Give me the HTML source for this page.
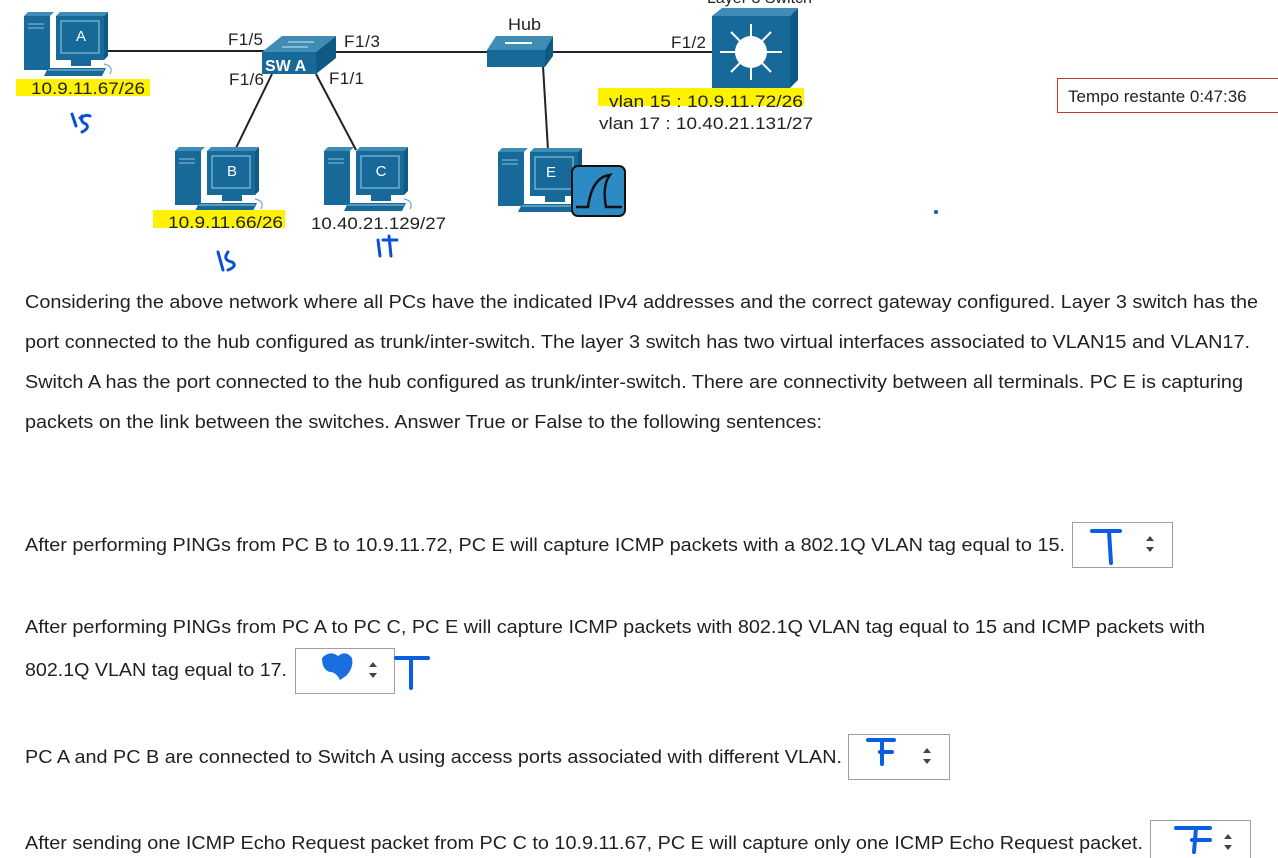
<!DOCTYPE html>
<html><head><meta charset="utf-8"><style>
html,body{margin:0;padding:0;background:#fff;}
svg{display:block;}
text{font-family:"Liberation Sans",Arial,sans-serif;}
</style></head><body>
<svg width="1278" height="858" viewBox="0 0 1278 858" xmlns="http://www.w3.org/2000/svg">
<defs>
<g id="pc">
  <polygon points="0,4 4,0 30,0 26,4" fill="#3f8db5"/>
  <rect x="0" y="4" width="26" height="54" fill="#17699a"/>
  <line x1="4" y1="12" x2="20" y2="12" stroke="#8fc0da" stroke-width="1"/>
  <line x1="4" y1="16" x2="20" y2="16" stroke="#8fc0da" stroke-width="1"/>
  <polygon points="32,4 36,0 84,0 80,4" fill="#3f8db5"/>
  <rect x="32" y="4" width="48" height="44" fill="#17699a"/>
  <polygon points="80,4 84,0 84,44 80,48" fill="#0f5a84"/>
  <rect x="37" y="9" width="38" height="32" fill="none" stroke="#9ccbe3" stroke-width="1"/>
  <rect x="47" y="48" width="20" height="6" fill="#17699a"/>
  <polygon points="24,56 82,56 78,64 20,64" fill="#17699a"/>
  <line x1="24" y1="58" x2="80" y2="58" stroke="#9ccbe3" stroke-width="1"/>
  <path d="M80,52 q10,2 6,10" fill="none" stroke="#6aa9cc" stroke-width="1.2"/>
</g>
</defs>

<g stroke="#222" stroke-width="2" fill="none">
  <line x1="108" y1="51" x2="266" y2="51"/>
  <line x1="334" y1="52" x2="490" y2="52"/>
  <line x1="550" y1="52" x2="714" y2="52"/>
  <line x1="272" y1="74" x2="236" y2="148"/>
  <line x1="316" y1="74" x2="356" y2="150"/>
  <line x1="543" y1="66" x2="548" y2="150"/>
</g>

<use href="#pc" x="24" y="12"/>
<use href="#pc" x="175" y="147"/>
<use href="#pc" x="324" y="147"/>
<use href="#pc" x="498" y="148"/>
<g fill="#fff" font-size="15" text-anchor="middle">
  <text x="81" y="41">A</text>
  <text x="232" y="176">B</text>
  <text x="381" y="176">C</text>
  <text x="551" y="177">E</text>
</g>

<rect x="572" y="166" width="53" height="50" rx="6" fill="#2c8bc4" stroke="#111" stroke-width="2"/>
<path d="M576,207 h12 q4,-30 22,-32 q-8,10 -4,32 h16" fill="none" stroke="#111" stroke-width="2.5"/>

<polygon points="262,52 282,36 336,36 316,52" fill="#3f8db5"/>
<rect x="262" y="52" width="54" height="22" fill="#17699a"/>
<polygon points="316,52 336,36 336,58 316,74" fill="#0f5a84"/>
<g stroke="#cfe6f2" stroke-width="1"><line x1="288" y1="42" x2="314" y2="42"/><line x1="282" y1="47" x2="308" y2="47"/></g>
<text x="265" y="71" font-size="16" fill="#fff" font-weight="bold">SW A</text>

<polygon points="487,50 496,36 553,36 545,50" fill="#3f8db5"/>
<rect x="487" y="50" width="58" height="17" fill="#17699a"/>
<polygon points="545,50 553,36 553,56 545,67" fill="#0f5a84"/>
<line x1="505" y1="43" x2="532" y2="43" stroke="#fff" stroke-width="2"/>
<text x="508" y="30" font-size="17" fill="#222" textLength="33" lengthAdjust="spacingAndGlyphs">Hub</text>

<polygon points="712,16 722,8 798,8 790,16" fill="#3f8db5"/>
<rect x="712" y="16" width="78" height="72" fill="#17699a"/>
<polygon points="790,16 798,8 798,80 790,88" fill="#0f5a84"/>
<circle cx="751" cy="52" r="16" fill="#fff"/>
<g stroke="#fff" stroke-width="2">
  <line x1="751" y1="36" x2="751" y2="24"/><line x1="751" y1="68" x2="751" y2="80"/>
  <line x1="735" y1="52" x2="720" y2="52"/><line x1="767" y1="52" x2="782" y2="52"/>
  <line x1="740" y1="41" x2="731" y2="32"/><line x1="762" y1="41" x2="771" y2="32"/>
  <line x1="740" y1="63" x2="731" y2="72"/><line x1="762" y1="63" x2="771" y2="72"/>
</g>
<text x="707" y="3" font-size="16" fill="#222">Layer 3 Switch</text>

<g font-size="17" fill="#222" lengthAdjust="spacingAndGlyphs">
  <text x="228" y="45" textLength="35">F1/5</text>
  <text x="344" y="47" textLength="36">F1/3</text>
  <text x="229" y="85" textLength="35">F1/6</text>
  <text x="329" y="84" textLength="35">F1/1</text>
  <text x="671" y="48" textLength="35">F1/2</text>
</g>

<g fill="#fff200">
  <rect x="16" y="79" width="134" height="17"/>
  <rect x="153" y="210" width="132" height="18"/>
  <rect x="598" y="88" width="206" height="18"/>
</g>
<g font-size="17" fill="#222">
  <text x="31" y="94" textLength="114" lengthAdjust="spacingAndGlyphs">10.9.11.67/26</text>
  <text x="168" y="228" textLength="115" lengthAdjust="spacingAndGlyphs">10.9.11.66/26</text>
  <text x="311" y="229" textLength="135" lengthAdjust="spacingAndGlyphs">10.40.21.129/27</text>
  <text x="609" y="107" textLength="194" lengthAdjust="spacingAndGlyphs">vlan 15 : 10.9.11.72/26</text>
  <text x="599" y="129" textLength="214" lengthAdjust="spacingAndGlyphs">vlan 17 : 10.40.21.131/27</text>
</g>

<g fill="none" stroke="#0a4fd8" stroke-width="3" stroke-linecap="round">
  <path d="M72,114 l4,12 M80,118 q6,-4 10,-2 M82,116 q-2,6 4,8 q4,4 -4,8"/>
  <path d="M218,252 l5,18 M228,252 q-6,8 4,10 q6,4 -4,8"/>
  <path d="M378,240 l2,16 M383,240 h14 M389,236 l2,20"/>
</g>

<rect x="1057.5" y="78.5" width="225" height="34" fill="#fff" stroke="#c0392b" stroke-width="1"/>
<text x="1068" y="102" font-size="17" fill="#222">Tempo restante 0:47:36</text>
<circle cx="936" cy="212" r="2" fill="#1a4fc0"/>

<g font-size="18" fill="#1d2125">
  <text x="25" y="308" textLength="1233" lengthAdjust="spacingAndGlyphs">Considering the above network where all PCs have the indicated IPv4 addresses and the correct gateway configured. Layer 3 switch has the</text>
  <text x="25" y="348" textLength="1225" lengthAdjust="spacingAndGlyphs">port connected to the hub configured as trunk/inter-switch. The layer 3 switch has two virtual interfaces associated to VLAN15 and VLAN17.</text>
  <text x="25" y="388" textLength="1218" lengthAdjust="spacingAndGlyphs">Switch A has the port connected to the hub configured as trunk/inter-switch. There are connectivity between all terminals. PC E is capturing</text>
  <text x="25" y="428" textLength="797" lengthAdjust="spacingAndGlyphs">packets on the link between the switches. Answer True or False to the following sentences:</text>

  <text x="25" y="551" textLength="1040" lengthAdjust="spacingAndGlyphs">After performing PINGs from PC B to 10.9.11.72, PC E will capture ICMP packets with a 802.1Q VLAN tag equal to 15.</text>
  <text x="25" y="633" textLength="1180" lengthAdjust="spacingAndGlyphs">After performing PINGs from PC A to PC C, PC E will capture ICMP packets with 802.1Q VLAN tag equal to 15 and ICMP packets with</text>
  <text x="25" y="676" textLength="262" lengthAdjust="spacingAndGlyphs">802.1Q VLAN tag equal to 17.</text>
  <text x="25" y="763" textLength="817" lengthAdjust="spacingAndGlyphs">PC A and PC B are connected to Switch A using access ports associated with different VLAN.</text>
  <text x="25" y="849" textLength="1118" lengthAdjust="spacingAndGlyphs">After sending one ICMP Echo Request packet from PC C to 10.9.11.67, PC E will capture only one ICMP Echo Request packet.</text>
</g>

<g fill="#fff" stroke="#9aa0a6" stroke-width="1">
  <rect x="1072.5" y="522.5" width="100" height="45"/>
  <rect x="295.5" y="648.5" width="99" height="45"/>
  <rect x="848.5" y="734.5" width="101" height="45"/>
  <rect x="1150.5" y="820.5" width="100" height="45"/>
</g>
<g fill="#444">
  <path d="M1146,541 l4,-5 l4,5z M1146,547 l4,5 l4,-5z"/>
  <path d="M369,667 l4,-5 l4,5z M369,673 l4,5 l4,-5z"/>
  <path d="M923,753 l4,-5 l4,5z M923,759 l4,5 l4,-5z"/>
  <path d="M1224,839 l4,-5 l4,5z M1224,845 l4,5 l4,-5z"/>
</g>
<g fill="none" stroke="#0a5ee0" stroke-width="4" stroke-linecap="round">
  <path d="M1092,531 h28 M1109,531 l2,32"/>
  <path d="M396,658 h32 M411,658 v30"/>
  <path d="M868,740 h26 M882,740 v24 M880,752 h12"/>
  <path d="M1176,828 h34 M1196,828 l-2,24 M1192,840 h18"/>
</g>
<path d="M322,658 q8,-8 16,-2 q8,-6 14,2 q2,10 -6,18 l-6,4 q-4,-8 -10,-8 q-8,-2 -8,-14z" fill="#1a6fe0"/>
</svg>
</body></html>
